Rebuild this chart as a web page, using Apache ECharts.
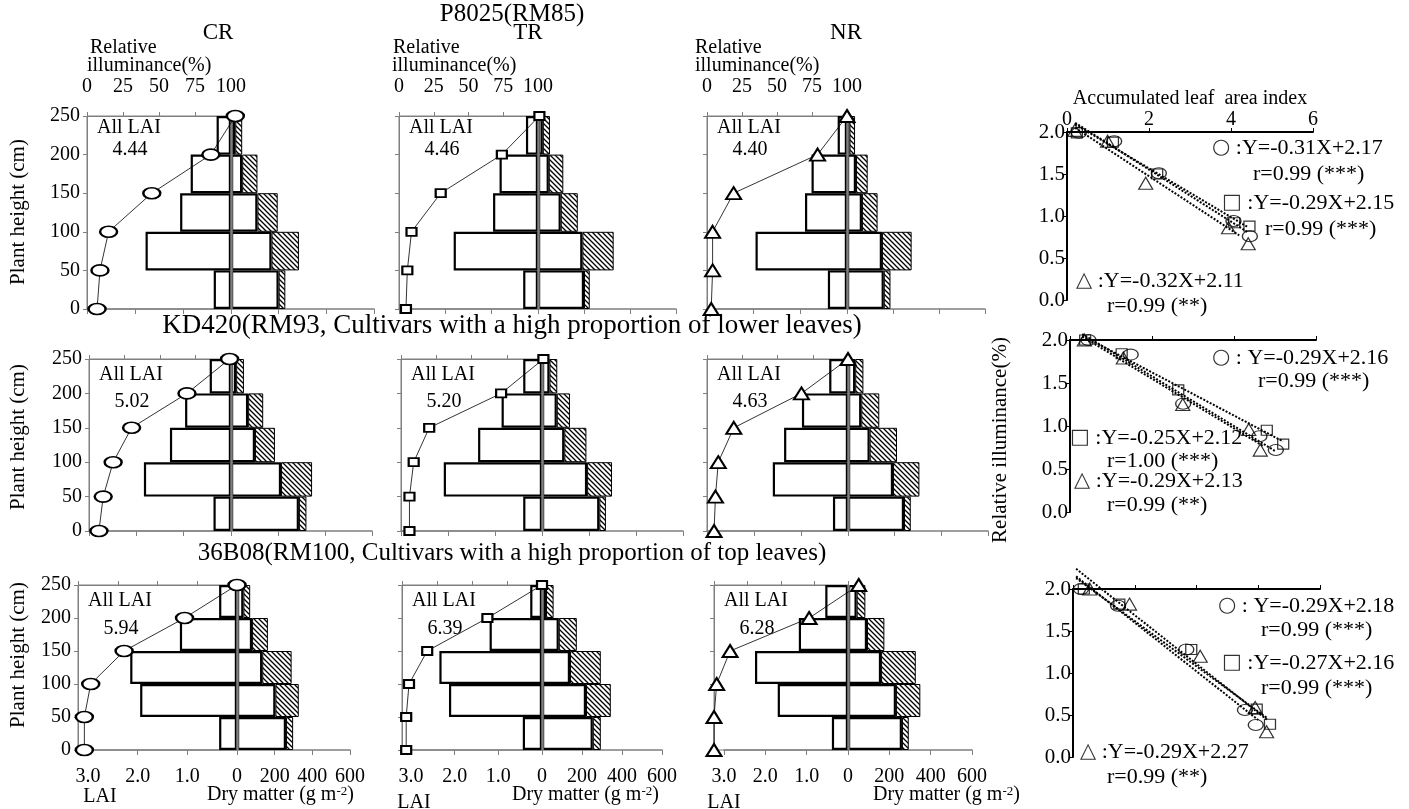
<!DOCTYPE html>
<html><head><meta charset="utf-8">
<script src="https://cdn.jsdelivr.net/npm/echarts@6/dist/echarts.min.js"></script>
<style>html,body{margin:0;padding:0;background:#fff}#c{width:1409px;height:809px}</style>
</head><body><div id="c"></div>
<script>
// ================= DATA =================
const rowTitles = ['P8025(RM85)', 'KD420(RM93, Cultivars with a high proportion of lower leaves)', '36B08(RM100, Cultivars with a high proportion of top leaves)'];
const treatments = ['CR', 'TR', 'NR'];
const layerNames = ['0-50', '50-100', '100-150', '150-200', '200-250'];
const heights = [0, 50, 100, 150, 200, 250];
const allLAI = [['4.44', '4.46', '4.40'], ['5.02', '5.20', '4.63'], ['5.94', '6.39', '6.28']];

// LAI per layer (bottom -> top), dry matter (white part, hatched part), relative illuminance at heights
const lai_P8025_CR = [0.36, 1.78, 1.06, 0.84, 0.30];
const dmWhite_P8025_CR = [200, 170, 111, 47, 18];
const dmHatch_P8025_CR = [28, 115, 85, 64, 29];
const illum_P8025_CR = [7, 9, 15, 45, 86, 103];

const lai_P8025_TR = [0.32, 1.82, 0.97, 0.83, 0.26];
const dmWhite_P8025_TR = [200, 193, 99, 47, 21];
const dmHatch_P8025_TR = [25, 136, 74, 63, 31];
const illum_P8025_TR = [5, 6, 9, 30, 74, 101];

const lai_P8025_NR = [0.41, 1.96, 0.90, 0.76, 0.20];
const dmWhite_P8025_NR = [160, 152, 65, 39, 11];
const dmHatch_P8025_NR = [29, 129, 68, 51, 24];
const illum_P8025_NR = [3, 4, 4, 19, 79, 100];

const lai_KD420_CR = [0.37, 1.84, 1.29, 0.97, 0.45];
const dmWhite_KD420_CR = [289, 213, 102, 73, 22];
const dmHatch_KD420_CR = [32, 132, 85, 64, 33];
const illum_KD420_CR = [7, 10, 17, 30, 69, 99];

const lai_KD420_TR = [0.40, 2.09, 1.36, 0.86, 0.40];
const dmWhite_KD420_TR = [244, 192, 95, 63, 32];
const dmHatch_KD420_TR = [28, 106, 94, 56, 33];
const illum_KD420_TR = [6, 6, 9, 20, 71, 101];

const lai_KD420_NR = [0.32, 1.60, 1.36, 0.98, 0.40];
const dmWhite_KD420_NR = [240, 193, 93, 57, 31];
const dmHatch_KD420_NR = [29, 113, 117, 77, 35];
const illum_KD420_NR = [5, 6, 8, 19, 67, 100];

const lai_36B08_CR = [0.36, 1.95, 2.15, 1.15, 0.36];
const dmWhite_36B08_CR = [260, 204, 134, 80, 34];
const dmHatch_36B08_CR = [38, 124, 156, 84, 36];
const illum_36B08_CR = [4, 4, 8, 29, 67, 100];

const lai_36B08_TR = [0.44, 2.13, 2.35, 1.20, 0.27];
const dmWhite_36B08_TR = [254, 220, 140, 84, 20];
const dmHatch_36B08_TR = [40, 124, 154, 90, 38];
const illum_36B08_TR = [3, 3, 5, 18, 61, 100];

const lai_36B08_NR = [0.39, 1.70, 2.25, 1.19, 0.55];
const dmWhite_36B08_NR = [261, 232, 160, 92, 42];
const dmHatch_36B08_NR = [33, 118, 168, 84, 42];
const illum_36B08_NR = [0, 0, 2, 12, 71, 108];

// Right panels: accumulated LAI (x) vs relative illuminance (y)
const accLAI_P8025_circle = [0.29, 1.15, 2.24, 4.06, 4.46];
const relIll_P8025_circle = [1.99, 1.89, 1.51, 0.94, 0.76];
const accLAI_P8025_square = [0.24, 1.12, 2.20, 4.08, 4.45];
const relIll_P8025_square = [1.99, 1.88, 1.50, 0.92, 0.88];
const accLAI_P8025_triangle = [0.19, 0.99, 1.92, 3.94, 4.42];
const relIll_P8025_triangle = [2.02, 1.89, 1.39, 0.86, 0.67];

const accLAI_KD420_circle = [0.45, 1.48, 2.76, 4.62, 5.02];
const relIll_KD420_circle = [2.00, 1.83, 1.26, 0.88, 0.72];
const accLAI_KD420_square = [0.37, 1.26, 2.64, 4.80, 5.20];
const relIll_KD420_square = [2.00, 1.84, 1.42, 0.95, 0.79];
const accLAI_KD420_triangle = [0.35, 1.30, 2.75, 4.36, 4.64];
const relIll_KD420_triangle = [2.00, 1.79, 1.25, 0.96, 0.72];

const accLAI_36B08_circle = [0.26, 1.46, 3.67, 5.57, 5.92];
const relIll_36B08_circle = [2.00, 1.80, 1.28, 0.56, 0.38];
const accLAI_36B08_square = [0.35, 1.50, 3.83, 5.95, 6.38];
const relIll_36B08_square = [2.00, 1.82, 1.28, 0.57, 0.39];
const accLAI_36B08_triangle = [0.54, 1.83, 4.12, 5.90, 6.27];
const relIll_36B08_triangle = [2.00, 1.82, 1.20, 0.59, 0.30];

// regression line end points
const trend_P8025_circle = [[0.2, 2.11], [4.4, 0.81]];
const trend_P8025_square = [[0.2, 2.09], [4.4, 0.87]];
const trend_P8025_triangle = [[0.2, 2.05], [4.2, 0.77]];
const trend_KD420_circle = [[0.3, 2.07], [5.0, 0.71]];
const trend_KD420_square = [[0.3, 2.05], [5.2, 0.82]];
const trend_KD420_triangle = [[0.3, 2.04], [4.7, 0.77]];
const trend_36B08_circle = [[0.1, 2.15], [6.0, 0.44]];
const trend_36B08_square = [[0.1, 2.13], [6.3, 0.46]];
const trend_36B08_triangle = [[0.1, 2.24], [6.3, 0.44]];

const eqSymbols = ['○', '□', '△'];
const eqTexts_P8025 = [' :Y=-0.31X+2.17', 'r=0.99 (***)', ' :Y=-0.29X+2.15', 'r=0.99 (***)', ' :Y=-0.32X+2.11', 'r=0.99 (**)'];
const eqTexts_KD420 = [' : Y=-0.29X+2.16', 'r=0.99 (***)', ' :Y=-0.25X+2.12', 'r=1.00 (***)', ' :Y=-0.29X+2.13', 'r=0.99 (**)'];
const eqTexts_36B08 = [' : Y=-0.29X+2.18', 'r=0.99 (***)', ' :Y=-0.27X+2.16', 'r=0.99 (***)', ' :Y=-0.29X+2.27', 'r=0.99 (**)'];
const rightXMax = [6, 6, 8];

// ================= LAYOUT / STYLE =================
const FONT = '"Liberation Serif", "Times New Roman", serif';
const GRAY = '#7f7f7f';
const rowTop = [116, 359, 585];
const rowBottom = [309, 531, 750];
// x positions: illuminance frame left, LAI=3 position, centre (LAI 0 / DM 0), DM=600 position
const illumLeft = [[87, 399, 707], [89, 401, 707], [78, 402, 714]];
const laiLeft = [[87, 399, 707], [89, 401, 707], [88, 411, 724]];
const colCenter = [[231, 538, 847], [231, 542, 848], [237, 542, 848]];
const dmRight = [[374, 676, 985], [372, 683, 988], [350, 662, 972]];
const allLaiOffset = [[12, 34], [16, 43], [16, 44]];
const plantLabelY = [212, 437, 655];
const rightGrid = [
  { left: 1067, top: 132, width: 246, height: 168 },
  { left: 1070, top: 340, width: 246, height: 172 },
  { left: 1073, top: 589, width: 247, height: 168 }
];
const eqPos = [
  [[1212, 148], [1253, 174], [1222, 203], [1265, 229], [1076, 281], [1107, 306]],
  [[1212, 358], [1258, 381], [1070, 438], [1107, 461], [1074, 481], [1107, 505]],
  [[1218, 606], [1261, 630], [1222, 663], [1261, 688], [1080, 752], [1107, 777]]
];

function hatchPattern() {
  const c = document.createElement('canvas');
  c.width = 5; c.height = 5;
  const g = c.getContext('2d');
  g.fillStyle = '#fff'; g.fillRect(0, 0, 5, 5);
  g.strokeStyle = '#000'; g.lineWidth = 1.3;
  g.beginPath();
  g.moveTo(-1, -1); g.lineTo(6, 6);
  g.moveTo(-1, 4); g.lineTo(1, 6);
  g.moveTo(4, -1); g.lineTo(6, 1);
  g.stroke();
  return c;
}
const HATCH = hatchPattern();

const panelData = [
  [[lai_P8025_CR, dmWhite_P8025_CR, dmHatch_P8025_CR, illum_P8025_CR],
   [lai_P8025_TR, dmWhite_P8025_TR, dmHatch_P8025_TR, illum_P8025_TR],
   [lai_P8025_NR, dmWhite_P8025_NR, dmHatch_P8025_NR, illum_P8025_NR]],
  [[lai_KD420_CR, dmWhite_KD420_CR, dmHatch_KD420_CR, illum_KD420_CR],
   [lai_KD420_TR, dmWhite_KD420_TR, dmHatch_KD420_TR, illum_KD420_TR],
   [lai_KD420_NR, dmWhite_KD420_NR, dmHatch_KD420_NR, illum_KD420_NR]],
  [[lai_36B08_CR, dmWhite_36B08_CR, dmHatch_36B08_CR, illum_36B08_CR],
   [lai_36B08_TR, dmWhite_36B08_TR, dmHatch_36B08_TR, illum_36B08_TR],
   [lai_36B08_NR, dmWhite_36B08_NR, dmHatch_36B08_NR, illum_36B08_NR]]
];
const rightData = [
  [[accLAI_P8025_circle, relIll_P8025_circle, trend_P8025_circle], [accLAI_P8025_square, relIll_P8025_square, trend_P8025_square], [accLAI_P8025_triangle, relIll_P8025_triangle, trend_P8025_triangle]],
  [[accLAI_KD420_circle, relIll_KD420_circle, trend_KD420_circle], [accLAI_KD420_square, relIll_KD420_square, trend_KD420_square], [accLAI_KD420_triangle, relIll_KD420_triangle, trend_KD420_triangle]],
  [[accLAI_36B08_circle, relIll_36B08_circle, trend_36B08_circle], [accLAI_36B08_square, relIll_36B08_square, trend_36B08_square], [accLAI_36B08_triangle, relIll_36B08_triangle, trend_36B08_triangle]]
];
const eqTexts = [eqTexts_P8025, eqTexts_KD420, eqTexts_36B08];

const leftSymbol = ['circle', 'rect', 'triangle'];
const leftSymbolSize = [[17, 11], [10, 8], [15, 12]];
const rightSymbolSize = [[15, 11], [11, 10], [14, 12]];

const grids = [], xAxes = [], yAxes = [], series = [], graphics = [];

function txt(x, y, text, size, align, extra) {
  return Object.assign({
    type: 'text', x: x, y: y, z: 100, silent: true,
    style: { text: text, font: size + 'px ' + FONT, fill: '#000', textAlign: align || 'left', textVerticalAlign: 'middle' }
  }, extra || {});
}
const axisGray = (w) => ({ show: true, onZero: false, lineStyle: { color: GRAY, width: w || 1 } });

// ---------- left panels ----------
for (let r = 0; r < 3; r++) {
  for (let c = 0; c < 3; c++) {
    const [lai, dmW, dmH, ill] = panelData[r][c];
    const T = rowTop[r], B = rowBottom[r];
    const cx = colCenter[r][c], il = illumLeft[r][c], ll = laiLeft[r][c], dr = dmRight[r][c];
    const gi = grids.length;
    grids.push({ left: il, top: T, width: cx - il, height: B - T, show: true, borderColor: GRAY, borderWidth: 1, backgroundColor: 'transparent' });
    const gl = grids.length;
    grids.push({ left: ll, top: T, width: cx - ll, height: B - T });
    const gd = grids.length;
    grids.push({ left: cx, top: T, width: dr - cx, height: B - T });

    const xi = xAxes.length;
    xAxes.push({
      gridIndex: gi, type: 'value', position: 'top', min: 0, max: 100, interval: 25,
      axisLine: axisGray(1), axisTick: { show: true, length: 4, lineStyle: { color: GRAY } },
      axisLabel: { show: r === 0, color: '#000', fontFamily: FONT, fontSize: 20, margin: 19 },
      splitLine: { show: false }
    });
    const yi = yAxes.length;
    yAxes.push({
      gridIndex: gi, type: 'value', min: 0, max: 250, interval: 50, position: 'left',
      axisLine: axisGray(1), axisTick: { show: true, length: 4, lineStyle: { color: GRAY } },
      axisLabel: { show: c === 0, color: '#000', fontFamily: FONT, fontSize: 20, margin: 7 },
      splitLine: { show: false }
    });
    const xl = xAxes.length;
    xAxes.push({
      gridIndex: gl, type: 'value', position: 'bottom', min: 0, max: 3, interval: 1, inverse: true,
      axisLine: axisGray(1.5), axisTick: { show: true, length: 5, lineStyle: { color: GRAY } },
      axisLabel: { show: r === 2, color: '#000', fontFamily: FONT, fontSize: 20, margin: 17,
        formatter: v => (v === 0 ? '0' : v.toFixed(1)) },
      splitLine: { show: false }
    });
    const yl = yAxes.length;
    yAxes.push({ gridIndex: gl, type: 'category', data: layerNames, show: false });
    const xd = xAxes.length;
    xAxes.push({
      gridIndex: gd, type: 'value', position: 'bottom', min: 0, max: 600, interval: 200,
      axisLine: axisGray(1.5), axisTick: { show: true, length: 5, lineStyle: { color: GRAY } },
      axisLabel: { show: r === 2, color: '#000', fontFamily: FONT, fontSize: 20, margin: 17,
        formatter: v => (v === 0 ? '' : String(v)) },
      splitLine: { show: false }
    });
    const yd = yAxes.length;
    yAxes.push({ gridIndex: gd, type: 'category', data: layerNames, show: false });

    series.push({
      type: 'bar', xAxisIndex: xl, yAxisIndex: yl, barCategoryGap: '0%', silent: true, z: 3,
      data: lai,
      itemStyle: { color: '#fff', borderColor: '#000', borderWidth: 2.2 }
    });
    series.push({
      type: 'bar', xAxisIndex: xd, yAxisIndex: yd, stack: 'dm' + r + c, barCategoryGap: '0%', silent: true, z: 3,
      data: dmW,
      itemStyle: { color: '#fff', borderColor: '#000', borderWidth: 2.2 },
      markLine: { silent: true, symbol: 'none', label: { show: false }, data: [{ xAxis: 0 }], lineStyle: { color: GRAY, width: 2.5, type: 'solid' } }
    });
    series.push({
      type: 'bar', xAxisIndex: xd, yAxisIndex: yd, stack: 'dm' + r + c, barCategoryGap: '0%', silent: true, z: 3,
      data: dmH,
      itemStyle: { color: { image: HATCH, repeat: 'repeat' }, borderColor: '#000', borderWidth: 1 }
    });
    series.push({
      type: 'line', xAxisIndex: xi, yAxisIndex: yi, clip: false, silent: true, z: 6,
      data: heights.map((h, k) => [ill[k], h]),
      symbol: leftSymbol[c], symbolSize: leftSymbolSize[c],
      lineStyle: { color: '#000', width: 0.8 },
      itemStyle: { color: '#fff', borderColor: '#000', borderWidth: 2 }
    });

    graphics.push(txt(il + 10, T + allLaiOffset[r][0], 'All LAI', 20, 'left'));
    graphics.push(txt(il + 43, T + allLaiOffset[r][1], allLAI[r][c], 20, 'center'));
    if (c === 0) graphics.push(txt(18, plantLabelY[r], 'Plant height (cm)', 21, 'center', { rotation: Math.PI / 2 }));
    if (r === 0) {
      graphics.push(txt(il + [3, -6, -12][c], 48, 'Relative', 20, 'left'));
      graphics.push(txt(il + [0, -7, -12][c], 66, 'illuminance(%)', 20, 'left'));
    }
  }
}

// bottom axis titles
const laiLabelX = [100, 414, 724], laiLabelY = [797, 803, 803];
const dmLabelX = [207, 512, 873];
for (let c = 0; c < 3; c++) {
  graphics.push(txt(laiLabelX[c], laiLabelY[c], 'LAI', 20, 'center'));
  graphics.push({
    type: 'text', x: dmLabelX[c], y: 795, z: 100, silent: true,
    style: {
      text: 'Dry matter (g m{s|-2})', font: '20px ' + FONT, fill: '#000', textAlign: 'left', textVerticalAlign: 'middle',
      rich: { s: { font: '13px ' + FONT, verticalAlign: 'top', fill: '#000' } }
    }
  });
}

// titles
graphics.push(txt(512, 14, rowTitles[0], 25, 'center'));
graphics.push(txt(512, 326, rowTitles[1], 27, 'center'));
graphics.push(txt(512, 553, rowTitles[2], 25, 'center'));
graphics.push(txt(218, 33, treatments[0], 23, 'center'));
graphics.push(txt(528, 33, treatments[1], 23, 'center'));
graphics.push(txt(846, 33, treatments[2], 23, 'center'));

// ---------- right panels ----------
const rightSym = ['circle', 'rect', 'triangle'];
for (let r = 0; r < 3; r++) {
  const g = grids.length;
  grids.push(rightGrid[r]);
  const xi = xAxes.length;
  xAxes.push({
    gridIndex: g, type: 'value', position: 'top', min: 0, max: rightXMax[r], interval: 2,
    axisLine: { show: true, onZero: false, lineStyle: { color: '#000', width: 2 } },
    axisTick: { show: true, length: 4, lineStyle: { color: '#000', width: 1 } },
    axisLabel: { show: r === 0, color: '#000', fontFamily: FONT, fontSize: 20, margin: 2 },
    splitLine: { show: false }
  });
  const yi = yAxes.length;
  yAxes.push({
    gridIndex: g, type: 'value', min: 0, max: 2, interval: 0.5,
    axisLine: { show: true, onZero: false, lineStyle: { color: '#000', width: 2 } },
    axisTick: { show: true, length: 4, lineStyle: { color: '#000', width: 1 } },
    axisLabel: { color: '#000', fontFamily: FONT, fontSize: 21, margin: 2, formatter: v => v.toFixed(1) },
    splitLine: { show: false }
  });
  for (let s = 0; s < 3; s++) {
    const [xs, ys, tr] = rightData[r][s];
    series.push({
      type: 'line', xAxisIndex: xi, yAxisIndex: yi, clip: false, silent: true, z: 4,
      data: tr, symbol: 'none', lineStyle: { color: '#000', width: 2, type: [2, 1.6] }
    });
    series.push({
      type: 'scatter', xAxisIndex: xi, yAxisIndex: yi, clip: false, silent: true, z: 5,
      data: xs.map((x, k) => [x, ys[k]]),
      symbol: rightSym[s], symbolSize: rightSymbolSize[s],
      itemStyle: { color: 'rgba(255,255,255,0)', borderColor: '#000', borderWidth: 1.2 }
    });
  }
  eqTexts[r].forEach((t, k) => {
    const isEq = k % 2 === 0;
    graphics.push({
      type: 'text', x: eqPos[r][k][0], y: eqPos[r][k][1], z: 100, silent: true,
      style: {
        text: isEq ? '{s|' + eqSymbols[k / 2] + '}' + t : t,
        font: '22px ' + FONT, fill: '#000', textAlign: 'left', textVerticalAlign: 'middle',
        rich: { s: { font: '21px "DejaVu Sans"', fill: '#333' } }
      }
    });
  });
}
graphics.push(txt(1190, 99, 'Accumulated leaf  area index', 20, 'center'));
graphics.push(txt(1000, 440, 'Relative illuminance(%)', 21, 'center', { rotation: Math.PI / 2 }));

const chart = echarts.init(document.getElementById('c'), null, { renderer: 'canvas' });
chart.setOption({
  animation: false,
  backgroundColor: '#fff',
  grid: grids, xAxis: xAxes, yAxis: yAxes, series: series, graphic: graphics
});
</script>
</body></html>
